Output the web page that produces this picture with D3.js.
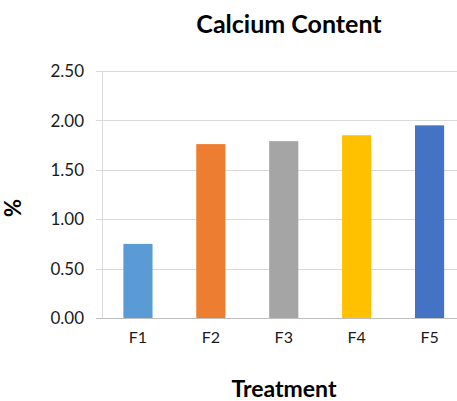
<!DOCTYPE html>
<html>
<head>
<meta charset="utf-8">
<script src="https://cdn.jsdelivr.net/npm/d3@7"></script>
<style>
  html, body { margin: 0; padding: 0; background: #fff; }
  svg { display: block; font-family: Lato, "Open Sans", "Liberation Sans", sans-serif; }
</style>
</head>
<body>
<svg id="chart" width="457" height="401"></svg>
<script>
// Calcium content (%) per treatment
const categories = ["F1", "F2", "F3", "F4", "F5"];
const values = [0.75, 1.76, 1.79, 1.85, 1.95];
const colors = ["#5B9BD5", "#ED7D31", "#A5A5A5", "#FFC000", "#4472C4"];
const yTicks = [0, 0.5, 1.0, 1.5, 2.0, 2.5];

const svg = d3.select("#chart");
const margin = { left: 101.5, top: 71, bottom: 318 };
const plotRight = 466;

const x = d3.scaleBand()
  .domain(categories)
  .range([margin.left, plotRight])
  .paddingInner(0.6)
  .paddingOuter(0.3);

const y = d3.scaleLinear()
  .domain([0, 2.5])
  .range([margin.bottom, margin.top]);

// Horizontal gridlines
svg.append("g")
  .selectAll("line")
  .data(yTicks.filter(d => d > 0))
  .join("line")
  .attr("x1", 96)
  .attr("x2", plotRight)
  .attr("y1", d => Math.round(y(d)) + 0.5)
  .attr("y2", d => Math.round(y(d)) + 0.5)
  .attr("stroke", "#d9d9d9")
  .attr("stroke-width", 1);

// Vertical axis line
svg.append("line")
  .attr("x1", Math.round(margin.left) + 0.5)
  .attr("x2", Math.round(margin.left) + 0.5)
  .attr("y1", y(2.5))
  .attr("y2", y(0))
  .attr("stroke", "#d9d9d9");

// Bars
svg.append("g")
  .selectAll("rect")
  .data(values)
  .join("rect")
  .attr("x", (d, i) => x(categories[i]))
  .attr("width", x.bandwidth())
  .attr("y", d => y(d))
  .attr("height", d => y(0) - y(d))
  .attr("fill", (d, i) => colors[i]);

// Baseline (category axis)
svg.append("line")
  .attr("x1", 96)
  .attr("x2", plotRight)
  .attr("y1", Math.round(y(0)) + 0.5)
  .attr("y2", Math.round(y(0)) + 0.5)
  .attr("stroke", "#bfbfbf");

// Y tick labels
svg.append("g")
  .selectAll("text")
  .data(yTicks)
  .join("text")
  .attr("x", 84)
  .attr("y", d => y(d))
  .attr("dy", "0.36em")
  .attr("text-anchor", "end")
  .attr("font-size", 17)
  .attr("fill", "#1a1a1a")
  .text(d => d3.format(".2f")(d));

// X tick labels
svg.append("g")
  .selectAll("text")
  .data(categories)
  .join("text")
  .attr("x", d => x(d) + x.bandwidth() / 2)
  .attr("y", 343)
  .attr("text-anchor", "middle")
  .attr("font-size", 16)
  .attr("fill", "#1a1a1a")
  .text(d => d);

// Title
svg.append("text")
  .attr("x", 289)
  .attr("y", 33)
  .attr("text-anchor", "middle")
  .attr("font-size", 25)
  .attr("font-weight", "bold")
  .attr("fill", "#000")
  .text("Calcium Content");

// Axis titles
svg.append("text")
  .attr("x", 284)
  .attr("y", 397)
  .attr("text-anchor", "middle")
  .attr("font-size", 23)
  .attr("font-weight", "bold")
  .attr("fill", "#000")
  .text("Treatment");

svg.append("text")
  .attr("transform", "translate(21,208) rotate(-90)")
  .attr("text-anchor", "middle")
  .attr("font-size", 22)
  .attr("font-weight", "bold")
  .attr("fill", "#000")
  .text("%");
</script>
</body>
</html>
